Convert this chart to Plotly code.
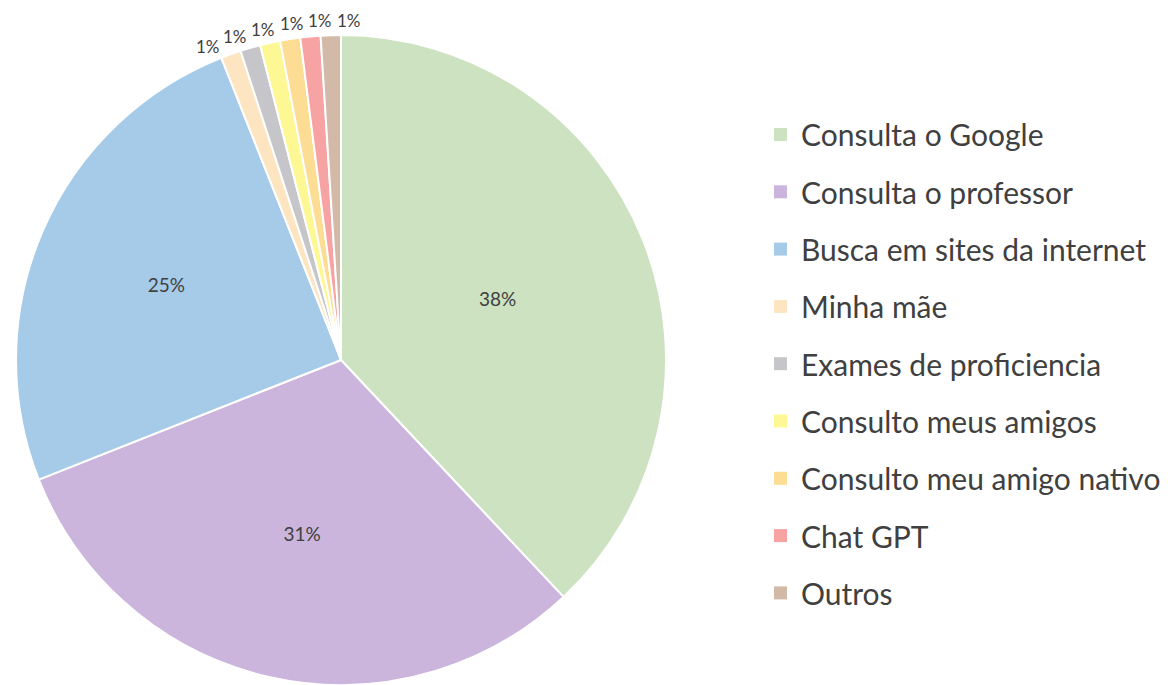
import math
import plotly.graph_objects as go

# ---- data ----
labels = ["Consulta o Google", "Consulta o professor", "Busca em sites da internet",
          "Minha mãe", "Exames de proficiencia", "Consulto meus amigos",
          "Consulto meu amigo nativo", "Chat GPT", "Outros"]
values = [38, 31, 25, 1, 1, 1, 1, 1, 1]
colors = ["#CCE2C1", "#CBB5DD", "#A6CBE8", "#FCE5C0", "#C6C6CA",
          "#FDF894", "#FCDD93", "#F7A3A3", "#D3B9A7"]

OFF = 8                      # page body margin
W, H = 1168 - OFF, 685 - OFF # figure size so it fits the window
cx, r = 341 - OFF, 325       # pie centre x (figure px) and radius (px)
cy = H - r                   # pie centre y from top (figure px)


def px2paper(x, y):
    return x / W, 1 - y / H


big = [v >= 5 for v in values]
text_pos = ["inside" if b else "none" for b in big]

fig = go.Figure(go.Pie(
    labels=labels, values=values, sort=False, direction="clockwise", rotation=0,
    marker=dict(colors=colors, line=dict(color="white", width=2)),
    texttemplate="%{percent:.0%}", textposition=text_pos,
    textfont=dict(size=19, color="#404040", family="Lato"),
    insidetextorientation="horizontal",
    showlegend=False, hoverinfo="label+percent",
    domain=dict(x=[(cx - r) / W, (cx + r) / W], y=[0, 2 * r / H]),
))

annos, shapes = [], []

# ---- outside labels for the thin slices (angle derived from the values) ----
total = sum(values)
cum = 0
small_angles = []
for v, b in zip(values, big):
    mid = (cum + v / 2) / total * 360.0
    cum += v
    if not b:
        small_angles.append((mid, v))
if small_angles:
    centre_ang = sum(a for a, _ in small_angles) / len(small_angles)
    spread = 1.35
    for a, v in small_angles:
        aa = math.radians(centre_ang + (a - centre_ang) * spread)
        rl = r + 15
        x, y = px2paper(cx + rl * math.sin(aa), cy - rl * math.cos(aa))
        annos.append(dict(text=f"{round(v / total * 100)}%", xref="paper", yref="paper",
                          x=x, y=y, xanchor="center", yanchor="middle",
                          showarrow=False,
                          font=dict(size=17, color="#404040", family="Lato")))

# ---- legend (manual, from the labels/colors lists) ----
leg_x_text = 799 - OFF
leg_sq_x = 774 - OFF
leg_y0, leg_dy = 134.5 - OFF, 57.3
sq = 13
for i, (lab, col) in enumerate(zip(labels, colors)):
    yc = leg_y0 + i * leg_dy
    x0, y0 = px2paper(leg_sq_x, yc + sq / 2)
    x1, y1 = px2paper(leg_sq_x + sq, yc - sq / 2)
    shapes.append(dict(type="rect", xref="paper", yref="paper",
                       x0=x0, x1=x1, y0=y0, y1=y1,
                       fillcolor=col, line=dict(width=0)))
    tx, ty = px2paper(leg_x_text, yc)
    annos.append(dict(text=lab, xref="paper", yref="paper", x=tx, y=ty,
                      xanchor="left", yanchor="middle", showarrow=False,
                      font=dict(size=30, color="#404040", family="Lato")))

fig.update_layout(width=W, height=H, margin=dict(l=0, r=0, t=0, b=0),
                  paper_bgcolor="white", plot_bgcolor="white",
                  shapes=shapes, annotations=annos, font=dict(family="Lato"))
fig.write_html("out.html")
